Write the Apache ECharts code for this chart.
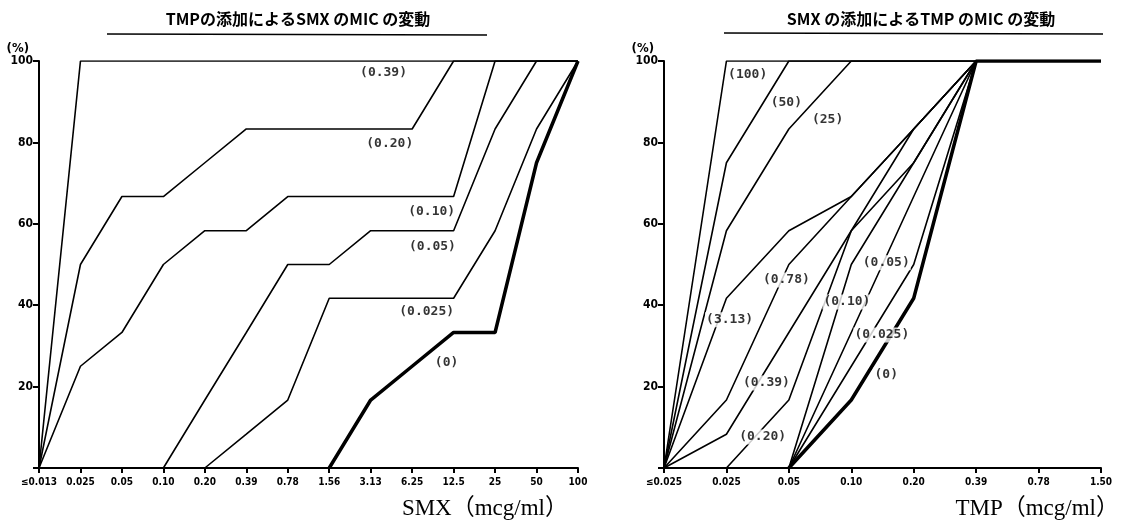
<!DOCTYPE html>
<html>
<head>
<meta charset="utf-8">
<script src="https://cdn.jsdelivr.net/npm/echarts@6/dist/echarts.min.js"></script>
<style>
  html, body { margin: 0; padding: 0; background: #fff; }
  #main { width: 1122px; height: 528px; }
</style>
</head>
<body>
<div id="main"></div>
<script>
// 横軸カテゴリ
var leftCats = ['≤0.013', '0.025', '0.05', '0.10', '0.20', '0.39', '0.78', '1.56', '3.13', '6.25', '12.5', '25', '50', '100'];
var rightCats = ['≤0.025', '0.025', '0.05', '0.10', '0.20', '0.39', '0.78', '1.50'];
var yTicks = [0, 20, 40, 60, 80, 100];

// TMPの添加によるSMXのMIC（累積%）
var smxWithTmp039 = [0, 100, 100, 100, 100, 100, 100, 100, 100, 100, 100, 100, 100, 100];
var smxWithTmp020 = [0, 50, 66.7, 66.7, 75, 83.3, 83.3, 83.3, 83.3, 83.3, 100, 100, 100, 100];
var smxWithTmp010 = [0, 25, 33.3, 50, 58.3, 58.3, 66.7, 66.7, 66.7, 66.7, 66.7, 100, 100, 100];
var smxWithTmp005 = [null, null, null, 0, 16.7, 33.3, 50, 50, 58.3, 58.3, 58.3, 83.3, 100, 100];
var smxWithTmp0025 = [null, null, null, null, 0, 8.3, 16.7, 41.7, 41.7, 41.7, 41.7, 58.3, 83.3, 100];
var smxWithTmp0 = [null, null, null, null, null, null, null, 0, 16.7, 25, 33.3, 33.3, 75, 100];

// SMXの添加によるTMPのMIC（累積%）
var tmpWithSmx100 = [0, 100, 100, 100, 100, 100, 100, 100];
var tmpWithSmx50 = [0, 75, 100, 100, 100, 100, 100, 100];
var tmpWithSmx25 = [0, 58.3, 83.3, 100, 100, 100, 100, 100];
var tmpWithSmx313 = [0, 41.7, 58.3, 66.7, 83.3, 100, 100, 100];
var tmpWithSmx078 = [0, 16.7, 50, 66.7, 83.3, 100, 100, 100];
var tmpWithSmx039 = [0, 8.3, 33.3, 58.3, 83.3, 100, 100, 100];
var tmpWithSmx020 = [null, 0, 16.7, 58.3, 75, 100, 100, 100];
var tmpWithSmx010 = [null, null, 0, 50, 75, 100, 100, 100];
var tmpWithSmx005 = [null, null, 0, 33.3, 66.7, 100, 100, 100];
var tmpWithSmx0025 = [null, null, 0, 25, 50, 100, 100, 100];
var tmpWithSmx0 = [null, null, 0, 16.7, 41.7, 100, 100, 100];

// 曲線ラベル（データ座標: カテゴリ番号, %）
var leftLabels = [
    [8.31, 97.1, '(0.39)'], [8.46, 79.6, '(0.20)'], [9.47, 62.9, '(0.10)'],
    [9.49, 54.3, '(0.05)'], [9.35, 38.3, '(0.025)'], [9.83, 25.8, '(0)']
];
var rightLabels = [
    [1.34, 96.6, '(100)'], [1.96, 89.7, '(50)'], [2.62, 85.5, '(25)'],
    [1.05, 36.4, '(3.13)'], [1.96, 46.2, '(0.78)'], [1.64, 20.9, '(0.39)'],
    [1.58, 7.6, '(0.20)'], [2.93, 40.8, '(0.10)'], [3.56, 50.4, '(0.05)'],
    [3.49, 32.7, '(0.025)'], [3.56, 22.9, '(0)']
];

var leftLines = [smxWithTmp039, smxWithTmp020, smxWithTmp010, smxWithTmp005, smxWithTmp0025, smxWithTmp0];
var rightLines = [tmpWithSmx100, tmpWithSmx50, tmpWithSmx25, tmpWithSmx313, tmpWithSmx078, tmpWithSmx039,
    tmpWithSmx020, tmpWithSmx010, tmpWithSmx005, tmpWithSmx0025, tmpWithSmx0];

var tickFont = 'DejaVu Sans Condensed, DejaVu Sans, sans-serif';

function xAxisFor(idx, cats, name, gap, padRight) {
    return {
        type: 'value', gridIndex: idx, min: 0, max: cats.length - 1, interval: 1,
        name: name, nameLocation: 'end', nameGap: gap,
        nameTextStyle: { fontFamily: 'Liberation Serif, Noto Sans CJK JP, serif', fontSize: 23, color: '#000',
            align: 'right', verticalAlign: 'top', padding: [29, padRight, 0, 0] },
        axisLine: { show: true, lineStyle: { color: '#000', width: 2 } },
        axisTick: { show: true, length: 5, lineStyle: { color: '#000', width: 2 } },
        axisLabel: { margin: 9, color: '#000', fontSize: 10, fontWeight: 'bold', fontFamily: tickFont,
            formatter: function (v) { return cats[v] || ''; } },
        splitLine: { show: false }
    };
}

function yAxisFor(idx) {
    return {
        type: 'value', gridIndex: idx, min: yTicks[0], max: yTicks[yTicks.length - 1], interval: 20,
        name: '(%)', nameLocation: 'end', nameGap: 6,
        nameTextStyle: { color: '#000', fontSize: 13, fontWeight: 'bold', fontFamily: tickFont, align: 'right', padding: [0, 10, 0, 0] },
        axisLine: { show: true, lineStyle: { color: '#000', width: 2 } },
        axisTick: { show: true, length: 6, lineStyle: { color: '#000', width: 2 } },
        axisLabel: { margin: 6, color: '#000', fontSize: 12, fontWeight: 'bold', fontFamily: tickFont,
            formatter: function (v) { return v === 0 ? '' : v; } },
        splitLine: { show: false }
    };
}

function lineSeries(list, idx) {
    return list.map(function (vals, k) {
        var thick = k === list.length - 1;
        return {
            type: 'line', xAxisIndex: idx, yAxisIndex: idx, symbol: 'none', silent: true, z: thick ? 3 : 2,
            data: vals.map(function (v, i) { return [i, v]; }),
            lineStyle: { color: '#000', width: thick ? 3.5 : 1.6 }
        };
    });
}

function labelSeries(list, idx) {
    return {
        type: 'scatter', xAxisIndex: idx, yAxisIndex: idx, symbolSize: 1, silent: true, z: 10,
        itemStyle: { color: 'rgba(0,0,0,0)' },
        data: list,
        label: {
            show: true, position: 'inside', color: '#000', fontSize: 13, fontWeight: 'bold',
            fontFamily: 'DejaVu Sans Mono, Liberation Mono, monospace',
            backgroundColor: '#fff', padding: [1, 1],
            formatter: function (p) { return p.data[2]; }
        }
    };
}

var chart = echarts.init(document.getElementById('main'));
chart.setOption({
    animation: false,
    backgroundColor: '#fff',
    title: [
        { text: 'TMPの添加によるSMX のMIC の変動', left: 293, top: 6, textAlign: 'center',
            textStyle: { fontFamily: 'Noto Sans CJK JP', fontSize: 16, fontWeight: 'bold', color: '#000' } },
        { text: 'SMX の添加によるTMP のMIC の変動', left: 916, top: 6, textAlign: 'center',
            textStyle: { fontFamily: 'Noto Sans CJK JP', fontSize: 16, fontWeight: 'bold', color: '#000' } }
    ],
    graphic: [
        { type: 'line', shape: { x1: 107, y1: 34, x2: 487, y2: 35 }, style: { stroke: '#000', lineWidth: 1.6 } },
        { type: 'line', shape: { x1: 724, y1: 33, x2: 1103, y2: 34 }, style: { stroke: '#000', lineWidth: 1.6 } }
    ],
    grid: [
        { left: 39, top: 61, width: 539, height: 407 },
        { left: 664, top: 61, width: 439, height: 407 }
    ],
    xAxis: [xAxisFor(0, leftCats, 'SMX（mcg/ml）', 0, 10), xAxisFor(1, rightCats, 'TMP（mcg/ml）', 18, 0)],
    yAxis: [yAxisFor(0), yAxisFor(1)],
    series: lineSeries(leftLines, 0).concat(lineSeries(rightLines, 1))
        .concat([labelSeries(leftLabels, 0), labelSeries(rightLabels, 1)])
});
window.onresize = chart.resize;
</script>
</body>
</html>
